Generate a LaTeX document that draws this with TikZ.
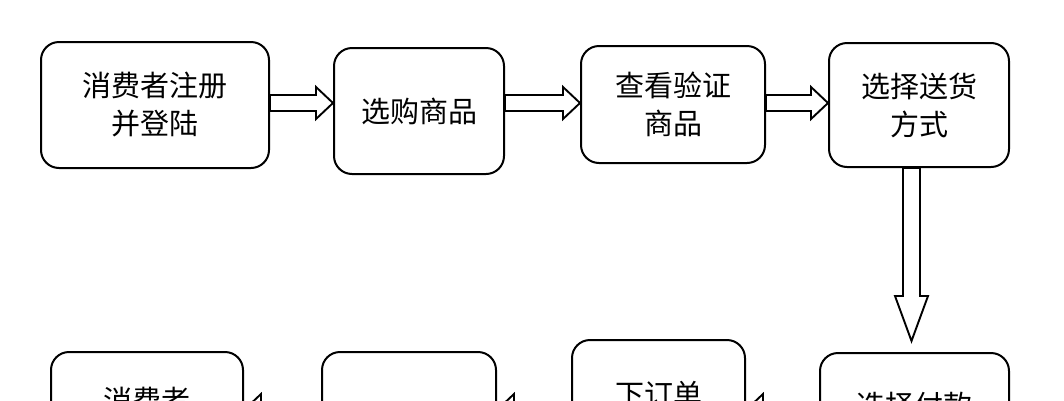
\documentclass[tikz,border=0pt]{standalone}
\usepackage{fontspec}
\newfontfamily\cjk{Noto Sans CJK SC}
\usetikzlibrary{calc}

\tikzset{
  procbox/.style={draw, line width=2pt, rounded corners=18pt, align=center,
    inner sep=0pt, font=\cjk\fontsize{29}{38}\selectfont},
  fatarrow/.style={draw, line width=1.9pt, fill=white, line join=miter}
}
\newcommand{\arrowright}[3]{%
  \draw[fatarrow] (#1.east |- 0,#3) ++(0,-8) -- ($(#2.west |- 0,#3)+(-17,-8)$) -- ++(0,-8)
    -- (#2.west |- 0,#3) -- ++(-17,16) -- ++(0,-8) -- ($(#1.east |- 0,#3)+(0,8)$) -- cycle;}
\newcommand{\arrowleft}[3]{%
  \draw[fatarrow] (#1.west |- 0,#3) ++(0,-8) -- ($(#2.east |- 0,#3)+(17,-8)$) -- ++(0,-8)
    -- (#2.east |- 0,#3) -- ++(17,16) -- ++(0,-8) -- ($(#1.west |- 0,#3)+(0,8)$) -- cycle;}
\newcommand{\arrowdown}[3]{%
  \coordinate (tip) at ($(#2.north -| #3,0)+(0,-11)$);
  \draw[fatarrow] (#1.south -| #3,0) ++(-8.5,0) -- ($(tip)+(-8.5,-45)$) -- ++(-8,0)
    -- (tip) -- ++(16.5,-45) -- ++(-8,0) -- ($(#1.south -| #3,0)+(8.5,0)$) -- cycle;}

\begin{document}
\begin{tikzpicture}[x=1pt, y=-1pt]
    \useasboundingbox (0,0) rectangle (1064,400);
    \clip (0,0) rectangle (1064,400);
    \node[procbox, minimum width=228pt, minimum height=126pt] (reg)   at (155,105)   {消费者注册\\并登陆};
    \node[procbox, minimum width=170pt, minimum height=126pt] (pick)  at (419,111)   {选购商品};
    \node[procbox, minimum width=184pt, minimum height=117pt] (check) at (673,104.5) {查看验证\\商品};
    \node[procbox, minimum width=180pt, minimum height=124pt] (ship)  at (919,105)   {选择送货\\方式};
    \node[procbox, minimum width=189pt, minimum height=140pt] (pay)   at (914.5,423) {选择付款\\\mbox{}};
    \node[procbox, minimum width=173pt, minimum height=144pt] (order) at (658.5,412) {下订单\\\mbox{}};
    \node[procbox, minimum width=174pt, minimum height=130pt] (wait)  at (409,417)   {};
    \node[procbox, minimum width=192pt, minimum height=132pt] (recv)  at (147,418)   {消费者\\\mbox{}};
    \arrowright{reg}{pick}{103}
    \arrowright{pick}{check}{103}
    \arrowright{check}{ship}{103}
    \arrowdown{ship}{pay}{911.5}
    \arrowleft{pay}{order}{410}
    \arrowleft{order}{wait}{410}
    \arrowleft{wait}{recv}{410}
\end{tikzpicture}
\end{document}
